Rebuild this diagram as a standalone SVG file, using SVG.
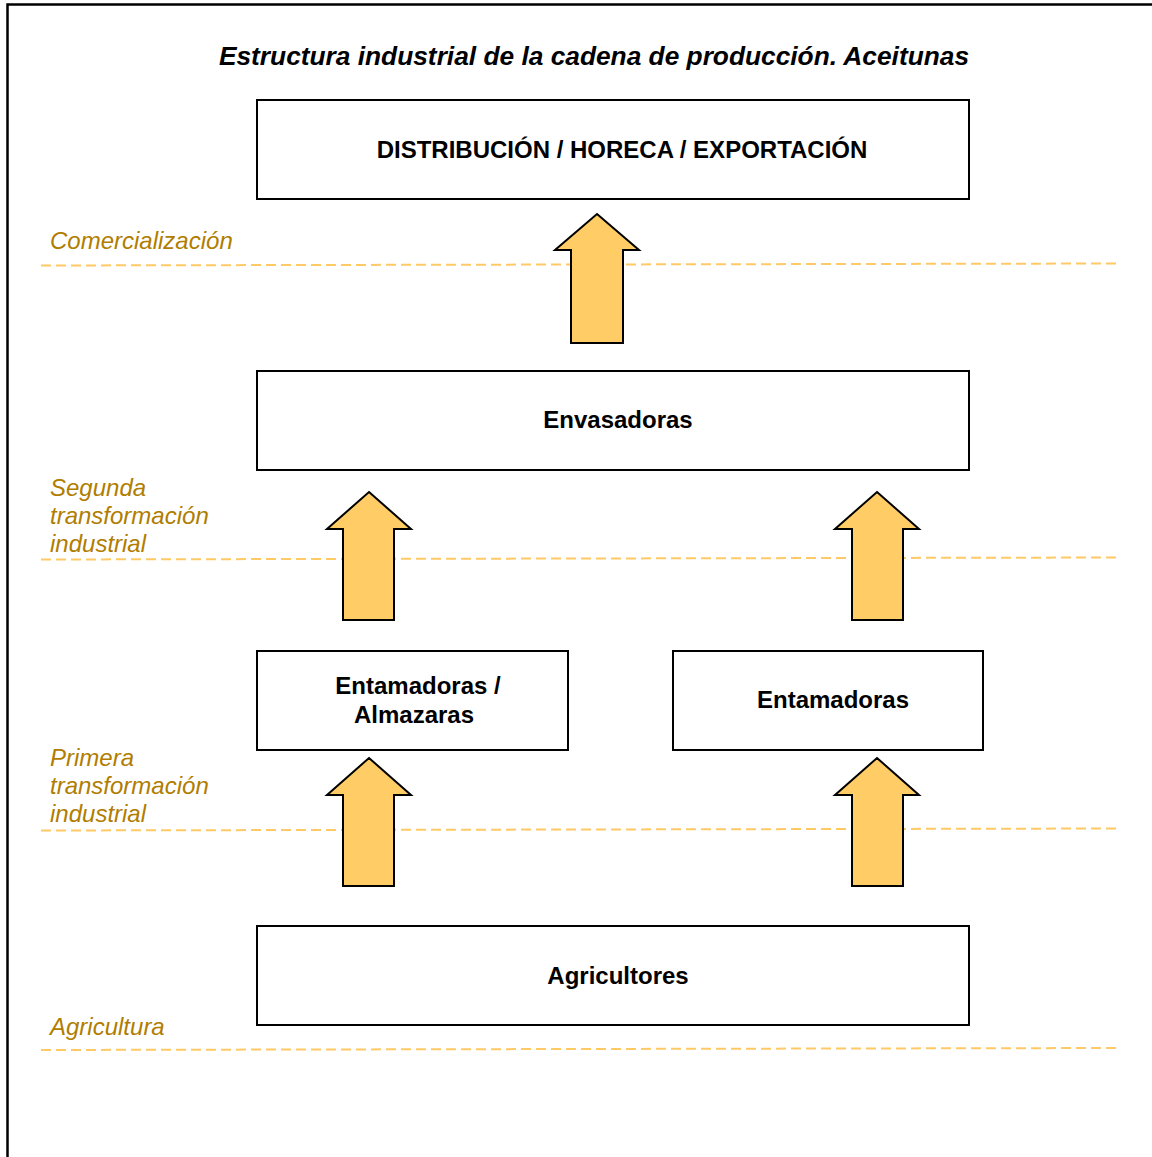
<svg xmlns="http://www.w3.org/2000/svg" width="1152" height="1157" viewBox="0 0 1152 1157">
<style>
.box{fill:#fff;stroke:#000;stroke-width:2}
.bt{font-family:"Liberation Sans",Arial,sans-serif;font-weight:bold;font-size:24px;text-anchor:middle;fill:#000}
.lab{font-family:"Liberation Sans",Arial,sans-serif;font-style:italic;font-size:24px;fill:#B07D00}
.dash{stroke:#FFC966;stroke-width:2;stroke-dasharray:10,5;fill:none}
.arr{fill:#FFCC66;stroke:#000;stroke-width:2;stroke-linejoin:miter}
</style>
<rect width="1152" height="1157" fill="#fff"/>
<path d="M7.5 1157 V4.5 H1152" fill="none" stroke="#000" stroke-width="2.5"/>
<text x="594" y="65" font-family="Liberation Sans,Arial,sans-serif" font-weight="bold" font-style="italic" font-size="26.3" text-anchor="middle">Estructura industrial de la cadena de producción. Aceitunas</text>
<g id="levels">
<path class="dash" d="M41 265.5 L1117 263.5"/>
<path class="dash" d="M41 559.5 L1117 557.5"/>
<path class="dash" d="M41 830.5 L1117 828.5"/>
<path class="dash" d="M41 1050 L1117 1048"/>
<text class="lab" x="50" y="249">Comercialización</text>
<text class="lab" x="50" y="496">Segunda</text>
<text class="lab" x="50" y="524">transformación</text>
<text class="lab" x="50" y="552">industrial</text>
<text class="lab" x="50" y="766">Primera</text>
<text class="lab" x="50" y="794">transformación</text>
<text class="lab" x="50" y="822">industrial</text>
<text class="lab" x="50" y="1035">Agricultura</text>
</g>
<g id="n_distribucion"><rect class="box" x="257" y="100" width="712" height="99"/><text class="bt" x="622" y="158">DISTRIBUCIÓN / HORECA / EXPORTACIÓN</text></g>
<g id="n_envasadoras"><rect class="box" x="257" y="371" width="712" height="99"/><text class="bt" x="618" y="428">Envasadoras</text></g>
<g id="n_entam_alm"><rect class="box" x="257" y="651" width="311" height="99"/><text class="bt" x="418" y="694">Entamadoras /</text><text class="bt" x="414" y="723">Almazaras</text></g>
<g id="n_entam"><rect class="box" x="673" y="651" width="310" height="99"/><text class="bt" x="833" y="708">Entamadoras</text></g>
<g id="n_agricultores"><rect class="box" x="257" y="926" width="712" height="99"/><text class="bt" x="618" y="984">Agricultores</text></g>
<g id="connectors">
<path class="arr" d="M597 214 L639 250 H623 V343 H571 V250 H555 Z"/>
<path class="arr" d="M369 492 L411 529 H394 V620 H343 V529 H327 Z"/>
<path class="arr" d="M877 492 L919 529 H903 V620 H852 V529 H835 Z"/>
<path class="arr" d="M369 758 L411 795 H394 V886 H343 V795 H327 Z"/>
<path class="arr" d="M877 758 L919 795 H903 V886 H852 V795 H835 Z"/>
</g>
</svg>
